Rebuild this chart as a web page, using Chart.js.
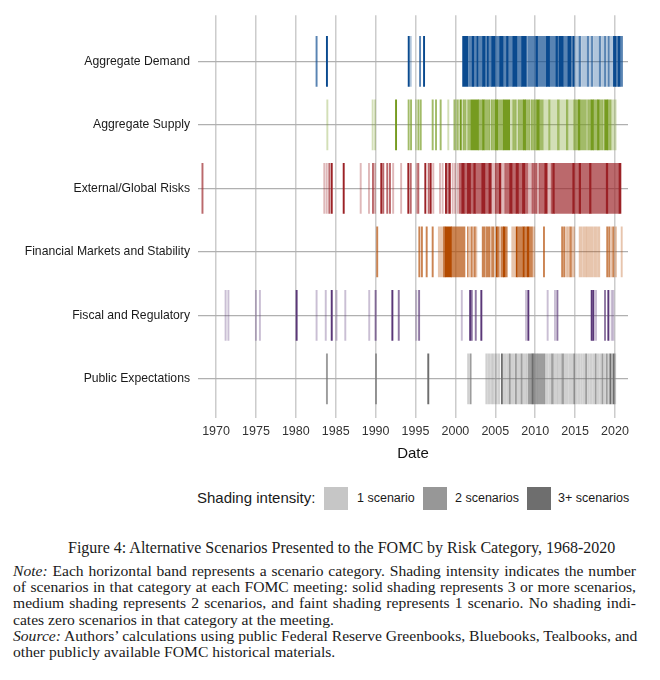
<!DOCTYPE html>
<html>
<head>
<meta charset="utf-8">
<script src="https://cdn.jsdelivr.net/npm/chart.js@4"></script>
<style>
  body { margin: 0; background: #fff; width: 660px; height: 680px; position: relative; overflow: hidden; }
  #chart { position: absolute; left: 0; top: 0; }
  .leg { position: absolute; font-family: "Liberation Sans", Arial, sans-serif; color: #1a1a1a; white-space: nowrap; }
  .sw { position: absolute; top: 487px; width: 24px; height: 23px; }
  .cap { position: absolute; left: 13px; width: 623px; font-family: "Liberation Serif", "Times New Roman", serif; font-size: 15.6px; color: #1a1a1a; line-height: 16.2px; }
  .cap div { white-space: nowrap; }
  .cap .j { text-align: justify; text-align-last: justify; }
</style>
</head>
<body>
<canvas id="chart" width="660" height="470"></canvas>

<div class="leg" style="left:197px; top:489px; font-size:15px;">Shading intensity:</div>
<div class="sw" style="left:324px; background:#c6c6c6;"></div>
<div class="leg" style="left:357px; top:491px; font-size:12.5px;">1 scenario</div>
<div class="sw" style="left:423px; background:#979797;"></div>
<div class="leg" style="left:455px; top:491px; font-size:12.5px;">2 scenarios</div>
<div class="sw" style="left:527px; background:#6e6e6e;"></div>
<div class="leg" style="left:558px; top:491px; font-size:12.5px;">3+ scenarios</div>

<div class="cap" style="top:540px; left:68px; width:560px; font-size:16px;">Figure 4: Alternative Scenarios Presented to the FOMC by Risk Category, 1968-2020</div>
<div class="cap" style="top:563px;">
  <div class="j"><i>Note:</i> Each horizontal band represents a scenario category. Shading intensity indicates the number</div>
  <div class="j">of scenarios in that category at each FOMC meeting: solid shading represents 3 or more scenarios,</div>
  <div class="j">medium shading represents 2 scenarios, and faint shading represents 1 scenario. No shading indi-</div>
  <div>cates zero scenarios in that category at the meeting.</div>
  <div class="j"><i>Source:</i> Authors’ calculations using public Federal Reserve Greenbooks, Bluebooks, Tealbooks, and</div>
  <div>other publicly available FOMC historical materials.</div>
</div>

<script>
const categories = ['Aggregate Demand', 'Aggregate Supply', 'External/Global Risks',
    'Financial Markets and Stability', 'Fiscal and Regulatory', 'Public Expectations'];
const yearTicks = [1970, 1975, 1980, 1985, 1990, 1995, 2000, 2005, 2010, 2015, 2020];

// [meeting date, scenarios] or [first meeting, last meeting, scenarios]
const aggregateDemand = [
    [1982.6, 2], [1983.9, 3], [1994.15, 3], [1994.4, 1], [1995.57, 2], [1996.07, 3],
    [2000.9, 2001.6, 3], [2001.7, 2002.1, 2], [2002.1, 2002.3, 3], [2002.3, 2002.7, 2], [2002.7, 2002.85, 3],
    [2002.9, 2003.4, 2], [2003.4, 2003.7, 3], [2003.7, 2004.0, 2], [2004.0, 2004.15, 3], [2004.2, 2004.55, 2],
    [2004.55, 2004.95, 3], [2005.0, 2005.55, 2], [2005.55, 2006.0, 3], [2006.05, 2006.4, 2], [2006.4, 2006.6, 3],
    [2006.6, 2007.2, 2], [2007.2, 2007.7, 3], [2007.7, 2008.3, 2], [2008.3, 2008.85, 3], [2008.85, 2009.0, 2],
    [2009.1, 2010.1, 2], [2010.1, 2010.3, 3], [2010.3, 2011.4, 2], [2011.4, 2011.8, 3], [2011.8, 2012.6, 2],
    [2012.6, 2012.8, 3], [2012.8, 2013.0, 2], [2013.0, 2013.5, 3], [2013.5, 2014.1, 2], [2014.1, 2014.45, 3],
    [2014.45, 2014.75, 2], [2014.75, 2014.9, 3], [2015.0, 2015.5, 1], [2015.5, 2015.7, 2], [2015.8, 2016.4, 1],
    [2016.5, 2016.7, 2], [2016.8, 2017.0, 1], [2017.05, 2017.2, 2], [2017.3, 2017.9, 1], [2018.0, 2018.2, 2],
    [2018.3, 2018.7, 1], [2018.7, 2018.85, 2], [2018.95, 2019.1, 1], [2019.15, 2019.3, 2], [2019.4, 2019.75, 1],
    [2019.8, 2020.1, 3], [2020.1, 2020.4, 2], [2020.4, 2020.65, 3], [2020.7, 2020.95, 2]
];
const aggregateSupply = [
    [1983.95, 1], [1989.63, 1], [1989.93, 1], [1992.56, 3], [1994.14, 2], [1994.44, 2], [1995.06, 1],
    [1995.36, 2], [1995.65, 2], [1997.15, 2], [1997.57, 2], [1998.15, 2], [1999.11, 1],
    [1999.8, 1999.95, 2], [2000.0, 2000.15, 1], [2000.2, 2000.35, 2], [2000.4, 2000.55, 1], [2000.6, 2000.75, 3],
    [2000.8, 2001.0, 1], [2001.0, 2001.3, 2], [2001.35, 2001.5, 1], [2001.55, 2001.8, 2], [2001.9, 2002.9, 3],
    [2002.9, 2003.4, 2], [2003.4, 2003.6, 3], [2003.6, 2004.3, 2], [2004.3, 2004.5, 1], [2004.5, 2005.0, 2],
    [2005.0, 2005.3, 3], [2005.3, 2005.9, 2], [2005.9, 2006.0, 1], [2006.0, 2006.8, 3], [2006.85, 2007.2, 1],
    [2007.2, 2007.6, 2], [2007.6, 2007.9, 1], [2007.9, 2008.5, 2], [2008.5, 2008.8, 3], [2008.8, 2009.3, 2],
    [2009.3, 2009.5, 1], [2009.5, 2010.2, 2], [2010.2, 2010.5, 3], [2010.5, 2011.0, 2], [2011.05, 2011.7, 1],
    [2011.7, 2011.85, 2], [2011.9, 2012.8, 1], [2012.8, 2013.0, 2], [2013.0, 2013.9, 1], [2013.9, 2014.1, 2],
    [2014.1, 2014.7, 1], [2014.8, 2015.4, 2], [2015.4, 2015.6, 3], [2015.6, 2016.4, 2], [2016.45, 2016.6, 1],
    [2016.6, 2017.0, 2], [2017.0, 2017.3, 3], [2017.3, 2017.8, 2], [2017.8, 2018.0, 3], [2018.0, 2018.5, 2],
    [2018.5, 2018.7, 1], [2018.7, 2019.1, 3], [2019.1, 2019.5, 2], [2019.5, 2020.15, 1]
];
const externalRisks = [
    [1968.3, 2], [1983.57, 1], [1983.87, 1], [1984.2, 2], [1984.5, 3], [1986.0, 3], [1988.13, 1],
    [1989.17, 1], [1989.67, 2], [1989.92, 1], [1990.71, 3], [1990.96, 2], [1991.46, 2], [1991.8, 2],
    [1992.2, 1], [1993.2, 1], [1994.1, 3], [1994.4, 2], [1995.15, 1], [1995.35, 2],
    [1996.23, 3], [1996.65, 2], [1996.9, 3], [1997.23, 1], [1998.07, 1], [1998.4, 1], [1998.82, 3],
    [1999.1, 2], [1999.3, 3], [1999.66, 1], [1999.95, 1],
    [2000.2, 2000.45, 1], [2000.5, 2000.8, 2], [2000.8, 2001.1, 3], [2001.1, 2001.5, 2], [2001.5, 2001.9, 3],
    [2001.9, 2002.3, 2], [2002.3, 2002.5, 3], [2002.5, 2003.3, 2], [2003.3, 2003.7, 3], [2003.7, 2004.2, 2],
    [2004.2, 2004.5, 3], [2004.55, 2005.0, 1], [2005.0, 2005.5, 2], [2005.5, 2005.7, 3], [2005.7, 2006.2, 1],
    [2006.2, 2006.8, 2], [2006.8, 2007.1, 3], [2007.1, 2007.6, 2], [2007.6, 2007.9, 3], [2007.9, 2008.4, 2],
    [2008.4, 2008.7, 3], [2008.7, 2009.1, 2], [2009.2, 2009.6, 1], [2009.6, 2010.2, 2], [2010.2, 2010.5, 1],
    [2010.5, 2011.2, 2], [2011.2, 2011.5, 3], [2011.5, 2012.0, 1], [2012.0, 2012.2, 2], [2012.2, 2012.4, 3],
    [2012.4, 2014.7, 2], [2014.7, 2014.9, 3], [2014.9, 2015.5, 2], [2015.5, 2015.7, 3], [2015.7, 2016.8, 2],
    [2016.8, 2017.0, 3], [2017.0, 2018.9, 2], [2018.9, 2019.1, 3], [2019.1, 2020.5, 2], [2020.5, 2020.75, 3]
];
const financialMarkets = [
    [1990.2, 2], [1995.48, 2], [1995.8, 2], [1996.4, 2], [1997.15, 2],
    [1997.85, 1998.5, 1], [1998.5, 1998.7, 2], [1998.7, 1999.5, 3], [1999.5, 2001.2, 2],
    [2001.5, 2001.6, 2], [2001.7, 2001.85, 1], [2001.95, 2002.1, 2], [2002.15, 2002.3, 1], [2002.35, 2002.5, 2],
    [2002.55, 2002.7, 1], [2003.35, 2003.7, 2], [2003.75, 2003.9, 1], [2003.9, 2004.3, 2], [2004.35, 2004.5, 1],
    [2004.55, 2004.85, 2], [2005.1, 2005.25, 3], [2005.3, 2005.45, 2], [2005.5, 2005.7, 1], [2005.75, 2006.0, 2],
    [2006.0, 2006.2, 3], [2006.25, 2006.5, 2], [2007.05, 2007.5, 1], [2007.6, 2007.75, 3], [2007.8, 2008.4, 2],
    [2008.45, 2008.65, 3], [2008.7, 2008.95, 2], [2009.0, 2009.2, 3], [2009.25, 2009.65, 2], [2009.7, 2009.95, 1],
    [2011.1, 2],
    [2013.3, 2013.45, 2], [2013.55, 2013.7, 2], [2013.8, 2014.05, 1], [2014.1, 2014.3, 1], [2014.35, 2014.55, 2],
    [2014.65, 2014.95, 1], [2015.5, 2015.9, 1], [2016.0, 2016.4, 1], [2016.45, 2017.3, 1], [2017.4, 2017.7, 1],
    [2017.8, 2018.1, 1], [2018.95, 2019.1, 2], [2019.2, 2019.35, 2], [2019.45, 2019.6, 1], [2019.7, 2019.85, 2],
    [2019.95, 2020.2, 1], [2020.84, 1]
];
const fiscalRegulatory = [
    [1971.2, 1], [1971.55, 1], [1975.0, 1], [1975.5, 1], [1980.1, 3], [1982.6, 1], [1983.75, 1],
    [1984.5, 3], [1985.1, 1], [1986.2, 1], [1989.2, 1], [1990.0, 2], [1992.1, 3], [1992.9, 2],
    [1995.1, 1], [1995.45, 2], [2000.8, 1], [2001.85, 3], [2002.05, 2], [2002.55, 2], [2003.25, 3],
    [2008.85, 1], [2009.14, 3], [2011.56, 1], [2012.48, 1], [2012.78, 2],
    [2017.08, 3], [2017.29, 3], [2017.62, 1], [2018.75, 2], [2019.17, 3], [2019.59, 1], [2019.79, 1]
];
const publicExpectations = [
    [1983.9, 2], [1990.05, 2], [1996.6, 3], [2001.6, 1], [2001.9, 2],
    [2003.8, 2004.0, 1], [2004.1, 2004.3, 1], [2004.4, 2004.6, 1], [2004.65, 2004.9, 1], [2005.0, 2005.2, 1],
    [2005.3, 2005.55, 1], [2005.75, 2005.9, 3], [2006.0, 2006.3, 1], [2006.4, 2006.7, 1], [2006.75, 2006.9, 2],
    [2007.0, 2007.4, 1], [2007.5, 2007.65, 2], [2007.7, 2008.1, 1], [2008.2, 2008.35, 2], [2008.4, 2008.9, 1],
    [2008.95, 2009.1, 1], [2009.15, 2009.6, 2], [2009.6, 2009.75, 3], [2009.75, 2010.3, 2], [2010.35, 2011.2, 2],
    [2011.25, 2011.6, 1], [2011.7, 2012.0, 1], [2012.05, 2012.25, 2], [2012.3, 2012.8, 1], [2012.85, 2013.3, 1],
    [2013.35, 2013.55, 2], [2013.6, 2014.1, 1], [2014.2, 2014.7, 1], [2014.8, 2014.95, 2], [2015.05, 2015.3, 1],
    [2015.4, 2015.6, 1], [2015.7, 2015.85, 1], [2015.95, 2016.2, 1], [2016.3, 2016.45, 2], [2016.55, 2016.8, 1],
    [2016.9, 2017.1, 1], [2017.2, 2017.4, 1], [2017.5, 2017.65, 2], [2017.75, 2018.0, 1], [2018.1, 2018.25, 1],
    [2018.35, 2018.5, 2], [2018.6, 2018.8, 1], [2018.9, 2019.05, 2], [2019.15, 2019.3, 1], [2019.35, 2019.5, 3],
    [2019.55, 2019.7, 1], [2019.75, 2019.9, 3], [2019.95, 2020.1, 1]
];

const series = [aggregateDemand, aggregateSupply, externalRisks, financialMarkets, fiscalRegulatory, publicExpectations];
const baseColors = ['10,74,143', '118,155,32', '155,34,38', '179,74,0', '90,55,120', '110,110,110'];
const levelAlpha = { 1: 0.32, 2: 0.68, 3: 1 };
const meetingWidth = 0.16;

const datasets = [];
series.forEach((rows, i) => {
    [1, 2, 3].forEach(level => {
        const data = rows.filter(r => r[r.length - 1] === level).map(r => {
            if (r.length === 3) return { x: [r[0], r[1]], y: i };
            return { x: [r[0] - meetingWidth / 2, r[0] + meetingWidth / 2], y: i };
        });
        datasets.push({
            data: data,
            backgroundColor: 'rgba(' + baseColors[i] + ',' + levelAlpha[level] + ')',
            borderWidth: 0,
            barThickness: 50,
            grouped: false
        });
    });
});

Chart.defaults.font.family = '"Liberation Sans", Arial, sans-serif';

new Chart(document.getElementById('chart').getContext('2d'), {
    type: 'bar',
    data: { datasets: datasets },
    options: {
        indexAxis: 'y',
        responsive: false,
        animation: false,
        layout: { padding: { top: 15, right: 32, left: 0, bottom: 0 } },
        scales: {
            x: {
                type: 'linear',
                min: 1967.74,
                max: 2021.63,
                afterBuildTicks: s => { s.ticks = yearTicks.map(v => ({ value: v })); },
                afterFit: s => { s.height = 52; },
                ticks: { color: '#333', font: { size: 12.5 }, padding: 6, callback: v => String(v) },
                grid: { color: '#cccccc', lineWidth: 1.5, drawTicks: false },
                border: { display: false },
                title: { display: true, text: 'Date', color: '#111', font: { size: 15 }, padding: { top: 0, bottom: 7 } }
            },
            y: {
                type: 'linear',
                reverse: true,
                offset: false,
                min: -0.726,
                max: 5.615,
                afterBuildTicks: s => { s.ticks = categories.map((c, i) => ({ value: i })); },
                afterFit: s => { s.width = 198; },
                ticks: { color: '#1a1a1a', font: { size: 12.2 }, padding: 8, callback: v => categories[v] },
                grid: { color: '#b0b0b0', lineWidth: 1.3, drawTicks: false, offset: false },
                border: { display: false }
            }
        },
        plugins: {
            legend: { display: false },
            tooltip: { enabled: false }
        }
    }
});
</script>
</body>
</html>
